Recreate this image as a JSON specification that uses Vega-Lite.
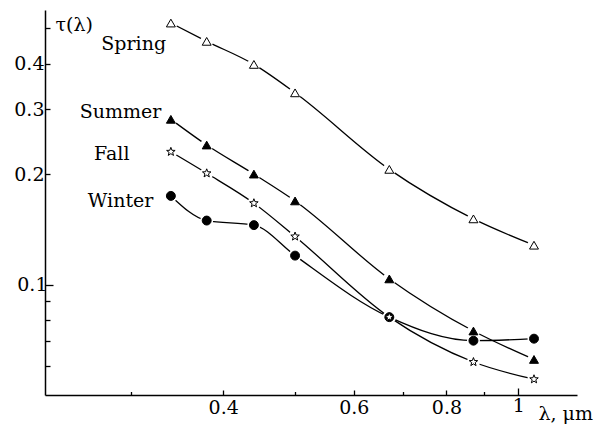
{
  "$schema": "https://vega.github.io/schema/vega-lite/v6.json",
  "width": 532,
  "height": 385,
  "autosize": {"type": "none"},
  "padding": {"left": 45, "top": 10, "right": 17, "bottom": 33},
  "background": "white",
  "config": {
    "view": {"stroke": null},
    "font": "DejaVu Serif",
    "axis": {
      "grid": false,
      "domainColor": "black",
      "domainWidth": 1.5,
      "tickColor": "black",
      "tickWidth": 1.3,
      "labelFont": "DejaVu Serif",
      "labelFontSize": 19,
      "labelColor": "black",
      "titleFont": "DejaVu Serif",
      "titleFontSize": 19,
      "titleFontWeight": "normal",
      "titleColor": "black"
    }
  },
  "datasets": {
    "tau": [
      {"season": "Spring", "lambda": 0.34, "tau": 0.516},
      {"season": "Spring", "lambda": 0.38, "tau": 0.460},
      {"season": "Spring", "lambda": 0.44, "tau": 0.398},
      {"season": "Spring", "lambda": 0.50, "tau": 0.333},
      {"season": "Spring", "lambda": 0.67, "tau": 0.206},
      {"season": "Spring", "lambda": 0.87, "tau": 0.151},
      {"season": "Spring", "lambda": 1.05, "tau": 0.128},
      {"season": "Summer", "lambda": 0.34, "tau": 0.282},
      {"season": "Summer", "lambda": 0.38, "tau": 0.240},
      {"season": "Summer", "lambda": 0.44, "tau": 0.200},
      {"season": "Summer", "lambda": 0.50, "tau": 0.169},
      {"season": "Summer", "lambda": 0.67, "tau": 0.1036},
      {"season": "Summer", "lambda": 0.87, "tau": 0.0747},
      {"season": "Summer", "lambda": 1.05, "tau": 0.0625},
      {"season": "Winter", "lambda": 0.34, "tau": 0.1744},
      {"season": "Winter", "lambda": 0.38, "tau": 0.1494},
      {"season": "Winter", "lambda": 0.44, "tau": 0.1452},
      {"season": "Winter", "lambda": 0.50, "tau": 0.1199},
      {"season": "Winter", "lambda": 0.67, "tau": 0.0815},
      {"season": "Winter", "lambda": 0.87, "tau": 0.0703},
      {"season": "Winter", "lambda": 1.05, "tau": 0.0712},
      {"season": "Fall", "lambda": 0.34, "tau": 0.230},
      {"season": "Fall", "lambda": 0.38, "tau": 0.201},
      {"season": "Fall", "lambda": 0.44, "tau": 0.1666},
      {"season": "Fall", "lambda": 0.50, "tau": 0.1352},
      {"season": "Fall", "lambda": 0.67, "tau": 0.0815},
      {"season": "Fall", "lambda": 0.87, "tau": 0.0615},
      {"season": "Fall", "lambda": 1.05, "tau": 0.0552}
    ],
    "labels": [
      {"label": "Spring", "lambda": 0.335, "tau": 0.436},
      {"label": "Summer", "lambda": 0.330, "tau": 0.2835},
      {"label": "Fall", "lambda": 0.299, "tau": 0.218},
      {"label": "Winter", "lambda": 0.322, "tau": 0.1625}
    ]
  },
  "layer": [
    {
      "data": {"name": "tau"},
      "mark": {"type": "line", "color": "black", "strokeWidth": 1.3, "interpolate": "monotone"},
      "encoding": {
        "x": {
          "field": "lambda", "type": "quantitative",
          "scale": {"type": "log", "domain": [0.23, 1.2], "nice": false, "zero": false},
          "axis": {
            "values": [0.3, 0.4, 0.5, 0.6, 0.7, 0.8, 0.9, 1],
            "format": "~g",
            "labelExpr": "(datum.value == 0.4 || datum.value == 0.6 || datum.value == 0.8 || datum.value == 1) ? datum.label : ''",
            "tickSize": {"condition": [{"test": "datum.value == 1", "value": -7}, {"test": "datum.value == 0.4 || datum.value == 0.6 || datum.value == 0.8", "value": -5}], "value": -3.5},
            "labelPadding": 8,
            "labelBaseline": "top",
            "labelFlush": false,
            "labelOverlap": false,
            "title": "λ, μm",
            "titleAlign": "left",
            "titleBaseline": "alphabetic",
            "titleX": 493,
            "titleY": 24,
            "titleAnchor": null
          }
        },
        "y": {
          "field": "tau", "type": "quantitative",
          "scale": {"type": "log", "domain": [0.05, 0.56], "nice": false, "zero": false},
          "axis": {
            "values": [0.06, 0.07, 0.08, 0.09, 0.1, 0.2, 0.3, 0.4, 0.5],
            "format": "~g",
            "labelExpr": "(datum.value == 0.1 || datum.value == 0.2 || datum.value == 0.3 || datum.value == 0.4) ? datum.label : ''",
            "tickSize": {"condition": {"test": "datum.value == 0.1", "value": -8}, "value": -5},
            "labelPadding": 6,
            "labelBaseline": "middle",
            "labelFlush": false,
            "labelOverlap": false,
            "title": "τ(λ)",
            "titleAngle": 0,
            "titleAlign": "left",
            "titleBaseline": "alphabetic",
            "titleX": 10,
            "titleY": 20,
            "titleAnchor": null
          }
        },
        "detail": {"field": "season"}
      }
    },
    {
      "data": {"name": "tau"},
      "mark": {"type": "point", "shape": "circle", "filled": true, "color": "white", "opacity": 1, "size": 170},
      "encoding": {
        "x": {"field": "lambda", "type": "quantitative"},
        "y": {"field": "tau", "type": "quantitative"}
      }
    },
    {
      "data": {"name": "tau"},
      "mark": {"type": "point", "stroke": "black", "strokeWidth": 1, "opacity": 1, "size": 80},
      "encoding": {
        "x": {"field": "lambda", "type": "quantitative"},
        "y": {"field": "tau", "type": "quantitative"},
        "shape": {
          "field": "season", "type": "nominal", "legend": null,
          "scale": {"domain": ["Spring", "Summer", "Winter", "Fall"], "range": ["triangle-up", "triangle-up", "circle", "M0,-1L0.247,-0.340L0.951,-0.309L0.399,0.130L0.588,0.809L0,0.42L-0.588,0.809L-0.399,0.130L-0.951,-0.309L-0.247,-0.340Z"]}
        },
        "fill": {
          "field": "season", "type": "nominal", "legend": null,
          "scale": {"domain": ["Spring", "Summer", "Winter", "Fall"], "range": ["white", "black", "black", "white"]}
        }
      }
    },
    {
      "data": {"name": "labels"},
      "mark": {"type": "text", "align": "right", "baseline": "alphabetic", "font": "DejaVu Serif", "fontSize": 19, "color": "black"},
      "encoding": {
        "x": {"field": "lambda", "type": "quantitative"},
        "y": {"field": "tau", "type": "quantitative"},
        "text": {"field": "label"}
      }
    }
  ]
}
